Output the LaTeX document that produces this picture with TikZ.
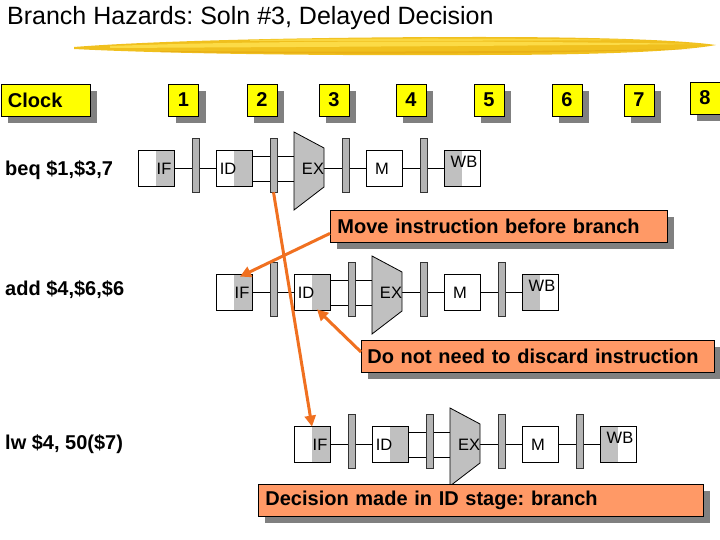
\documentclass[tikz,border=0pt]{standalone}
\usepackage{fontspec}
\setmainfont{Liberation Sans}
\frenchspacing
\usetikzlibrary{arrows.meta,shadows,backgrounds}
\definecolor{clkyellow}{RGB}{255,255,0}
\definecolor{shgray}{RGB}{128,128,128}
\definecolor{stgray}{RGB}{192,192,192}
\definecolor{barfill}{RGB}{180,180,180}
\definecolor{callout}{RGB}{255,153,102}
\definecolor{arrorange}{RGB}{240,112,32}
\definecolor{brushA}{RGB}{240,192,30}
\definecolor{brushB}{RGB}{255,226,80}
\definecolor{brushC}{RGB}{230,170,20}
\tikzset{
  bfont/.style={font=\fontsize{20}{22}\selectfont\bfseries},
  clockbox/.style={draw=black, line width=0.8pt, fill=clkyellow, inner sep=0pt,
    minimum height=32pt, bfont,
    drop shadow={shadow xshift=7pt, shadow yshift=-7pt, opacity=1, fill=shgray}},
  numbox/.style={clockbox, minimum width=30pt},
  callbox/.style={draw=black, line width=0.8pt, fill=callout, inner sep=0pt,
    minimum height=32pt, bfont, anchor=west,
    drop shadow={shadow xshift=7pt, shadow yshift=-7pt, opacity=1, fill=shgray}},
  stbox/.style={draw=black, line width=0.8pt, fill=white, minimum width=36pt,
    minimum height=36pt, inner sep=0pt},
  grayR/.style={path picture={\fill[stgray] (path picture bounding box.north)
    rectangle (path picture bounding box.south east);}},
  grayL/.style={path picture={\fill[stgray] (path picture bounding box.north west)
    rectangle (path picture bounding box.south);}},
  barbox/.style={draw=black!80, line width=0.6pt, fill=barfill, minimum width=7pt,
    minimum height=54pt, inner sep=0pt},
  exshape/.style={draw=black, line width=0.8pt, fill=stgray},
  exnode/.style={minimum width=30pt, minimum height=39pt, inner sep=0pt},
  sttxt/.style={font=\fontsize{16.5}{18}\selectfont, inner sep=0pt},
  wire/.style={draw=black, line width=0.8pt},
  rowlbl/.style={bfont, anchor=west, inner sep=0pt},
  arr/.style={draw=arrorange, line width=3pt,
    -{Triangle[length=11pt,width=11pt]}},
}
% #1 id, #2 dx, #3 yc
\newcommand\pipeRow[3]{%
  \node[stbox, grayR] (if#1) at (#2+156,#3) {};
  \node[barbox] (ba#1) at (#2+195.5,#3-3) {};
  \node[stbox, grayR] (id#1) at (#2+234,#3) {};
  \node[barbox] (bb#1) at (#2+273.5,#3-3) {};
  \draw[exshape] (#2+294,#3-36) -- (#2+324,#3-20) -- (#2+324,#3+19)
     -- (#2+294,#3+42) -- cycle;
  \node[exnode] (ex#1) at (#2+309,#3) {};
  \node[barbox] (bc#1) at (#2+345.5,#3-3) {};
  \node[stbox] (m#1) at (#2+384,#3) {};
  \node[barbox] (bd#1) at (#2+423.5,#3-3) {};
  \node[stbox, grayL] (wb#1) at (#2+462,#3) {};
  \node[sttxt] (tif#1) at (#2+164,#3+1) {IF};
  \node[sttxt] (tid#1) at (#2+228,#3+1) {ID};
  \node[sttxt] (tex#1) at (#2+313,#3+1) {EX};
  \node[sttxt] (tm#1) at (#2+382,#3+1) {M};
  \node[sttxt] (twb#1) at (#2+464,#3-6) {WB};
  \begin{scope}[on background layer]
    \draw[wire] (if#1.east) -- (if#1.east -| ba#1.west);
    \draw[wire] (ba#1.east |- if#1.east) -- (id#1.west);
    \draw[wire] ([yshift=12pt]id#1.east) -- ([yshift=12pt]ex#1.west);
    \draw[wire] ([yshift=-13pt]id#1.east) -- ([yshift=-13pt]ex#1.west);
    \draw[wire] (ex#1.east) -- (ex#1.east -| bc#1.west);
    \draw[wire] (bc#1.east |- ex#1.east) -- (m#1.west);
    \draw[wire] (m#1.east) -- (m#1.east -| bd#1.west);
    \draw[wire] (bd#1.east |- m#1.east) -- (wb#1.west);
  \end{scope}
}
\begin{document}
\begin{tikzpicture}[x=1pt,y=-1pt]
\useasboundingbox (0,0) rectangle (720,540);

% brush stroke under the title
\fill[brushA] (74,47) .. controls (150,41) and (300,37) .. (480,37)
   .. controls (600,37) and (680,40) .. (716,45)
   .. controls (690,50) and (620,55) .. (480,55)
   .. controls (300,56) and (150,53) .. (74,49) -- cycle;
\fill[brushB, opacity=0.8] (110,46) .. controls (250,41) and (450,40) .. (700,44)
   .. controls (500,46) and (300,47) .. (110,48) -- cycle;
\fill[brushC, opacity=0.7] (160,52) .. controls (300,54) and (500,55) .. (690,49)
   .. controls (500,52) and (300,52) .. (160,51) -- cycle;
\fill[brushB, opacity=0.7] (250,40) .. controls (350,38) and (500,38) .. (640,40)
   .. controls (500,41) and (350,41) .. (250,41) -- cycle;

\node[anchor=west, inner sep=0pt, font=\fontsize{25}{28}\selectfont] (title)
  at (7,18) {Branch Hazards: Soln \#3, Delayed Decision};

% clock row
\node[clockbox, minimum width=89pt, text width=75pt, inner xsep=7pt, align=left]
  (clk) at (45.5,100.5) {Clock};
\node[numbox] (n1) at (183.5,100) {1};
\node[numbox] (n2) at (262,100) {2};
\node[numbox] (n3) at (334,100) {3};
\node[numbox] (n4) at (411,100) {4};
\node[numbox] (n5) at (489,100) {5};
\node[numbox] (n6) at (567,100) {6};
\node[numbox] (n7) at (639,100) {7};
\node[numbox] (n8) at (705,98) {8};

% instruction labels
\node[rowlbl] (l1) at (5,170) {beq \$1,\$3,7};
\node[rowlbl] (l2) at (5,290) {add \$4,\$6,\$6};
\node[rowlbl] (l3) at (5,444) {lw \$4, 50(\$7)};

% pipelines
\pipeRow{1}{0}{168}
\pipeRow{2}{78}{292}
\pipeRow{3}{156}{444}

% callouts
\node[callbox, minimum width=337pt, text width=323pt, inner xsep=7pt, align=left]
  (mv) at (330,226) {Move instruction before branch};
\node[callbox, minimum width=353pt, text width=341pt, inner xsep=6pt, align=left]
  (dn) at (361,356) {Do not need to discard instruction};
\node[callbox, minimum width=445pt, text width=431pt, inner xsep=7pt, align=left]
  (dc) at (258,500) {Decision made in ID stage: branch};

% arrows
\draw[arr] ([yshift=9pt]mv.south west) -- ([xshift=6pt,yshift=-3pt]if2.north);
\draw[arr] ([yshift=4pt]dn.west) -- ([xshift=5pt,yshift=1pt]id2.south);
\draw[arr] (bb1.south) -- ([yshift=-1pt]if3.north);
\end{tikzpicture}
\end{document}
